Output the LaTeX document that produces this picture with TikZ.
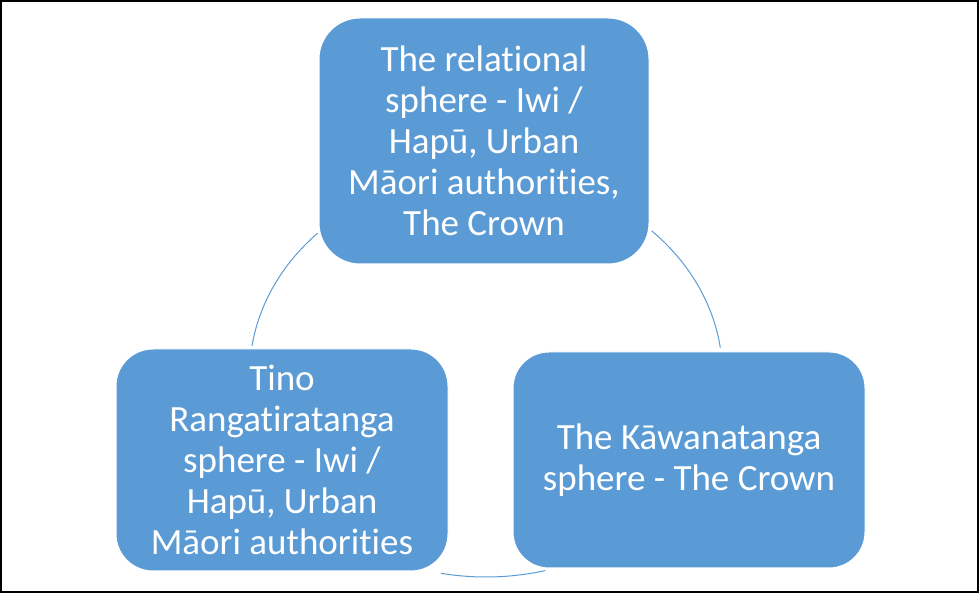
\documentclass[tikz,border=0pt]{standalone}
\usepackage{fontspec}
\setmainfont{Carlito}[RawFeature=-liga]
\definecolor{sphereblue}{HTML}{5B9BD5}
\begin{document}
\begin{tikzpicture}[x=1pt,y=1pt,
  sphere/.style={rectangle, fill=sphereblue, draw=white, line width=1pt,
    text=white, align=center, inner sep=0pt,
    font=\fontsize{37}{41}\selectfont},
  link/.style={draw=sphereblue, line width=1pt}]
  % frame
  \draw[line width=2pt] (1,1) rectangle (978,592);
  \useasboundingbox (0,0) rectangle (979,593);

  % the three spheres
  \node[sphere, minimum width=330pt, minimum height=246pt, rounded corners=41pt]
    (rel) at (484,452) {The relational\\sphere - Iwi /\\Hapū, Urban\\Māori authorities,\\The Crown};
  \node[sphere, minimum width=332pt, minimum height=222pt, rounded corners=37pt]
    (tino) at (282,133) {Tino\\Rangatiratanga\\sphere - Iwi /\\Hapū, Urban\\Māori authorities};
  \node[sphere, minimum width=352pt, minimum height=216pt, rounded corners=36pt]
    (kaw) at (689,133) {The Kāwanatanga\\sphere - The Crown};

  % cycle links on a common ellipse
  \coordinate (ring) at (486,218);
  \def\ra{236.5}\def\rb{202}
  \draw[link] ([shift={(135.4:\ra pt and \rb pt)}]ring)
    arc[start angle=135.4, end angle=171.7, x radius=\ra pt, y radius=\rb pt];
  \draw[link] ([shift={(45.5:\ra pt and \rb pt)}]ring)
    arc[start angle=45.5, end angle=7.8, x radius=\ra pt, y radius=\rb pt];
  \draw[link] ([shift={(259:\ra pt and \rb pt)}]ring)
    arc[start angle=259, end angle=284.5, x radius=\ra pt, y radius=\rb pt];
\end{tikzpicture}
\end{document}
